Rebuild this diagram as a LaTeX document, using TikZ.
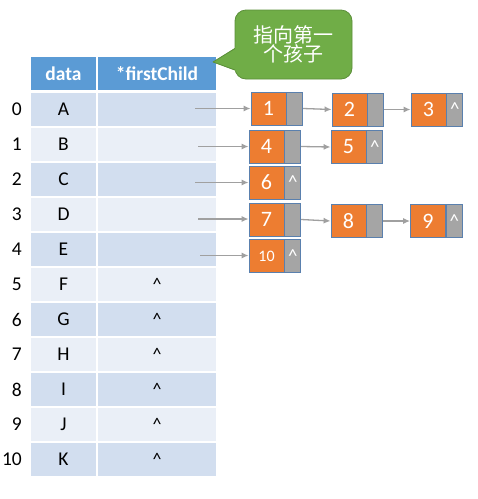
\documentclass[tikz,border=0pt]{standalone}
\usepackage{fontspec}
\setmainfont{Carlito}
\newfontfamily\cjk{Noto Sans CJK SC}
\usetikzlibrary{arrows.meta}
\tikzset{>={Latex[length=7pt,width=6pt]}}
\definecolor{hdblue}{HTML}{5B9BD5}
\definecolor{rowdark}{HTML}{D2DEEF}
\definecolor{rowlight}{HTML}{EAEFF7}
\definecolor{elemorange}{HTML}{ED7D31}
\definecolor{ptrgray}{HTML}{A5A5A5}
\definecolor{boxline}{HTML}{5A80AE}
\definecolor{arrowgray}{HTML}{A0A0A0}
\definecolor{bubblegreen}{HTML}{70AD47}
\definecolor{bubbleedge}{HTML}{5B8F3A}
\tikzstyle{cell}     =[draw=white,line width=1.5pt,inner sep=0pt,minimum height=35pt,
                       font=\fontsize{19.5}{19.5}\selectfont]
\tikzstyle{datacell} =[cell,minimum width=67pt]
\tikzstyle{childcell}=[cell,minimum width=120pt]
\tikzstyle{elem}     =[draw=boxline,line width=0.8pt,fill=elemorange,text=white,inner sep=0pt,
                       minimum width=35pt,minimum height=33pt,font=\fontsize{22}{22}\selectfont]
\tikzstyle{nextp}    =[elem,fill=ptrgray,minimum width=16pt,font=\fontsize{19}{19}\selectfont]
\tikzstyle{ptr}      =[->,draw=arrowgray,fill=arrowgray,line width=1.3pt]
\tikzstyle{bubble}   =[draw=bubbleedge,line width=0.8pt,fill=bubblegreen,text=white,
                       rounded corners=11pt,minimum width=117pt,minimum height=69pt,
                       align=center,font=\cjk\fontsize{20}{19}\selectfont]
% child list element: name, x, y, number, next field
\newcommand\listnode[5]{
  \node[elem] (#1) at (#2,#3) {#4};
  \node[nextp,anchor=west] (#1p) at (#1.east) {#5};
}

\begin{document}
\begin{tikzpicture}[x=1pt,y=-1pt]
  \useasboundingbox[fill=white] (0,0) rectangle (478,499);

  % header of the table
  \node[datacell,fill=hdblue,text=white,font=\bfseries\fontsize{19.5}{19.5}\selectfont]
    (hdata) at (63.5,73.5) {data};
  \node[childcell,fill=hdblue,text=white,font=\bfseries\fontsize{19.5}{19.5}\selectfont]
    (hchild) at (157,73.5) {*firstChild};

  % rows of the table
  \foreach \i/\d in {0/A,1/B,2/C,3/D,4/E,5/F,6/G,7/H,8/I,9/J,10/K}{
    \pgfmathsetmacro\yy{109.5+35*\i}
    \pgfmathparse{mod(\i,2)==0 ? "rowdark" : "rowlight"}
    \edef\rowcol{\pgfmathresult}
    \node[datacell,fill=\rowcol] (d\i) at (63.5,\yy) {\d};
    \node[childcell,fill=\rowcol,font=\fontsize{18}{18}\selectfont] (f\i) at (157,\yy)
      {\ifnum\i>4 \textasciicircum\fi};
    \node[anchor=east,inner sep=0pt,font=\fontsize{19.5}{19.5}\selectfont] (r\i) at (22,\yy) {\i};
  }

  % child lists
  \listnode{n1}{268.5}{108.5}{1}{}
  \listnode{n2}{349.5}{109.5}{2}{}
  \listnode{n3}{428.5}{109.5}{3}{\textasciicircum}
  \listnode{n4}{266.5}{146.5}{4}{}
  \listnode{n5}{348.5}{147}{5}{\textasciicircum}
  \listnode{n6}{266.5}{182.5}{6}{\textasciicircum}
  \listnode{n7}{266.5}{219.5}{7}{}
  \listnode{n8}{348.5}{221}{8}{}
  \listnode{n9}{428}{221}{9}{\textasciicircum}
  \listnode{n10}{266.5}{256}{\fontsize{16}{16}\selectfont 10}{\textasciicircum}

  % pointers out of the table
  \coordinate (s0) at (195,108.5);
  \coordinate (s1) at (198,146.5);
  \coordinate (s2) at (195,182.5);
  \coordinate (s3) at (198,219);
  \coordinate (s4) at (200,255.5);
  \draw[ptr] (s0) -- (s0 -| n1.west);
  \draw[ptr] (s1) -- (s1 -| n4.west);
  \draw[ptr] (s2) -- (s2 -| n6.west);
  \draw[ptr] (s3) -- (s3 -| n7.west);
  \draw[ptr] (s4) -- (s4 -| n10.west);

  % pointers along the lists
  \draw[ptr] (n1p.east) -- (n2.west);
  \draw[ptr] (n2p.east) -- (n3.west);
  \draw[ptr] (n4p.east) -- (n5.west);
  \draw[ptr] (n7p.east) -- (n8.west);
  \draw[ptr] (n8p.east) -- (n9.west);

  % speech bubble
  \node[bubble] (note) at (293.5,44.5) {指向第一\\个孩子};
  \coordinate (tip) at (213,62);
  \fill[bubblegreen] (236.5,47) -- (tip) -- (236.5,71) -- cycle;
  \draw[bubbleedge,line width=0.8pt,line join=round] (235,48.5) -- (tip) -- (235,70);
\end{tikzpicture}
\end{document}
